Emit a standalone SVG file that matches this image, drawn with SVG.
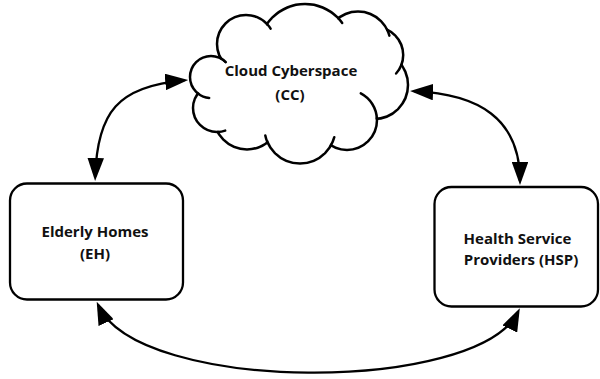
<svg xmlns="http://www.w3.org/2000/svg" width="600" height="379" viewBox="0 0 600 379">
<style>
.box{fill:#fff;stroke:#000;stroke-width:2.3}
.edge circle{fill:#fff;stroke:#000;stroke-width:5}
.fill circle,.fill polygon{fill:#fff;stroke:none}
.hook{fill:none;stroke:#000;stroke-width:2.5;stroke-linecap:round}
.lbl{font-family:"Open Sans","Liberation Sans",sans-serif;font-weight:700;font-size:15px;fill:#111;text-anchor:middle}
.conn{fill:none;stroke:#000;stroke-width:2.3;marker-start:url(#ah);marker-end:url(#ah)}
</style>
<defs>
<marker id="ah" viewBox="0 0 10 7.2" refX="8.3" refY="3.6" markerWidth="10" markerHeight="7.2" markerUnits="strokeWidth" orient="auto-start-reverse">
<path d="M0,0 L10,3.6 L0,7.2 z" fill="#000"/>
</marker>
</defs>
<rect width="600" height="379" fill="#fff"/>
<g id="cc">
<g class="edge">
<circle cx="211" cy="77" r="19.75"/>
<circle cx="246" cy="44" r="27.75"/>
<circle cx="305" cy="50" r="44.75"/>
<circle cx="358" cy="44" r="31.25"/>
<circle cx="375.5" cy="55" r="26.45"/>
<circle cx="374" cy="85" r="32.75"/>
<circle cx="347" cy="120" r="28.75"/>
<circle cx="300" cy="128" r="34.25"/>
<circle cx="247" cy="116" r="32.15"/>
<circle cx="217" cy="108" r="22.75"/>
</g>
<g class="fill">
<circle cx="211" cy="77" r="19.75"/>
<circle cx="246" cy="44" r="27.75"/>
<circle cx="305" cy="50" r="44.75"/>
<circle cx="358" cy="44" r="31.25"/>
<circle cx="375.5" cy="55" r="26.45"/>
<circle cx="374" cy="85" r="32.75"/>
<circle cx="347" cy="120" r="28.75"/>
<circle cx="300" cy="128" r="34.25"/>
<circle cx="247" cy="116" r="32.15"/>
<circle cx="217" cy="108" r="22.75"/>
<polygon points="211,77 246,44 305,50 358,44 375.5,55 374,85 347,120 300,128 247,116 217,108"/>
</g>
<path class="hook" d="M220.9,58.4 A21,21 0 0 1 225.8,62.2"/>
<path class="hook" d="M267,24 A29,29 0 0 1 270.6,28.6"/>
<path class="hook" d="M338.2,18.2 A46,46 0 0 1 342.2,23"/>
<path class="hook" d="M387.2,30 A32.5,32.5 0 0 1 389.4,35.6"/>
<path class="hook" d="M401.5,64.8 A27.7,27.7 0 0 1 396.1,73.5"/>
<path class="hook" d="M360.8,93.4 A30,30 0 0 1 376.9,118.9"/>
<path class="hook" d="M334.3,137.2 A35.5,35.5 0 0 1 330.9,145.4"/>
<path class="hook" d="M267.5,142.4 A35.5,35.5 0 0 1 265.3,135.4"/>
<path class="hook" d="M225.2,130.6 A24,24 0 0 1 217.7,132"/>
<path class="hook" d="M209.2,97.9 A21,21 0 0 1 197.9,93.4"/>
<text class="lbl" x="291" y="76">Cloud Cyberspace</text>
<text class="lbl" x="290" y="100">(CC)</text>
</g>
<g id="eh">
<rect class="box" x="10" y="183.5" width="173" height="116" rx="17"/>
<text class="lbl" x="95" y="237">Elderly Homes</text>
<text class="lbl" x="95" y="259">(EH)</text>
</g>
<g id="hsp">
<rect class="box" x="434.5" y="187" width="163.5" height="119.5" rx="17"/>
<text class="lbl" x="517.5" y="244">Health Service</text>
<text class="lbl" x="521" y="265">Providers (HSP)</text>
</g>
<g id="connectors">
<path class="conn" d="M95.2,177 C97,112 118,86 184.3,80.3"/>
<path class="conn" d="M414,91.2 C478,94 520,118 520,181"/>
<path class="conn" d="M98.3,305.2 C138,394 478,394 518.1,311.8"/>
</g>
</svg>
